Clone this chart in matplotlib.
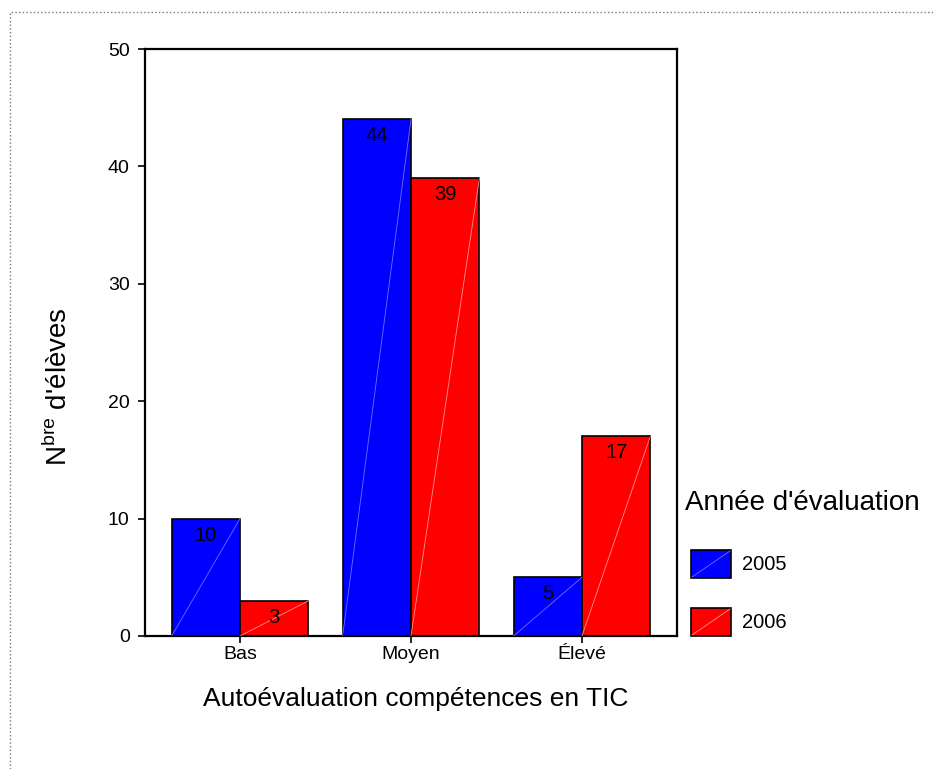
import matplotlib.pyplot as plt
import numpy as np
from matplotlib.patches import Rectangle
from matplotlib.lines import Line2D

plt.rcParams['font.family'] = ['Liberation Sans', 'DejaVu Sans']
plt.rcParams['mathtext.fontset'] = 'custom'
plt.rcParams['mathtext.rm'] = 'Liberation Sans'

# data
categories = ['Bas', 'Moyen', 'Élevé']
years = ['2005', '2006']
counts_2005 = [10, 44, 5]
counts_2006 = [3, 39, 17]
colors = ['#0000ff', '#ff0000']
diag_colors = ['#7070ff', '#ff9090']

W, H = 933, 769
fig = plt.figure(figsize=(W / 100, H / 100), dpi=100)


def fx(px):
    return px / W


def fy(py):
    return 1 - py / H


ax = fig.add_axes([fx(145), fy(636), fx(677) - fx(145), fy(49) - fy(636)])

x = np.arange(len(categories))
width = 0.4
for i, (vals, col, dcol) in enumerate(zip([counts_2005, counts_2006], colors, diag_colors)):
    pos = x - width / 2 + i * width
    ax.bar(pos, vals, width=width, color=col, edgecolor='black', linewidth=1.2, zorder=2)
    for p, v in zip(pos, vals):
        ax.plot([p - width / 2, p + width / 2], [0, v], color=dcol, lw=0.6, zorder=3)
        ax.annotate(str(v), (p, v), xytext=(0, -5), textcoords='offset points',
                    ha='center', va='top', fontsize=14.5, zorder=4)

ax.set_xlim(-0.556, 2.556)
ax.set_ylim(0, 50)
ax.set_yticks([0, 10, 20, 30, 40, 50])
ax.set_xticks(x)
ax.set_xticklabels(categories)
ax.tick_params(axis='both', labelsize=14, length=5, width=1.2, direction='out')
ax.tick_params(axis='y', pad=6)
ax.tick_params(axis='x', pad=2)
for s in ax.spines.values():
    s.set_linewidth(1.6)

# axis labels
fig.text(fx(416), fy(699), 'Autoévaluation compétences en TIC', ha='center', va='center', fontsize=19)
fig.text(fx(58), fy(387), r"N$^{\mathrm{bre}}$ d'élèves", ha='center', va='center',
         rotation=90, fontsize=20)

# legend
fig.text(fx(685), fy(503), "Année d'évaluation", ha='left', va='center', fontsize=20)
for i, (lab, col, dcol) in enumerate(zip(years, colors, diag_colors)):
    top = 550 + i * 58
    fig.add_artist(Rectangle((fx(691), fy(top + 28)), fx(40), fy(0) - fy(28),
                             transform=fig.transFigure, facecolor=col, edgecolor='black', lw=1.2))
    fig.add_artist(Line2D([fx(692), fx(730)], [fy(top + 27), fy(top + 1)],
                          transform=fig.transFigure, color=dcol, lw=0.6))
    fig.text(fx(742), fy(top + 14), lab, ha='left', va='center', fontsize=14.5)

# dotted frame
fig.add_artist(Line2D([fx(10), fx(10), 1], [0, fy(12), fy(12)],
                      transform=fig.transFigure, color='#777777', lw=1, ls=':'))

plt.savefig('out.png', dpi=100)
